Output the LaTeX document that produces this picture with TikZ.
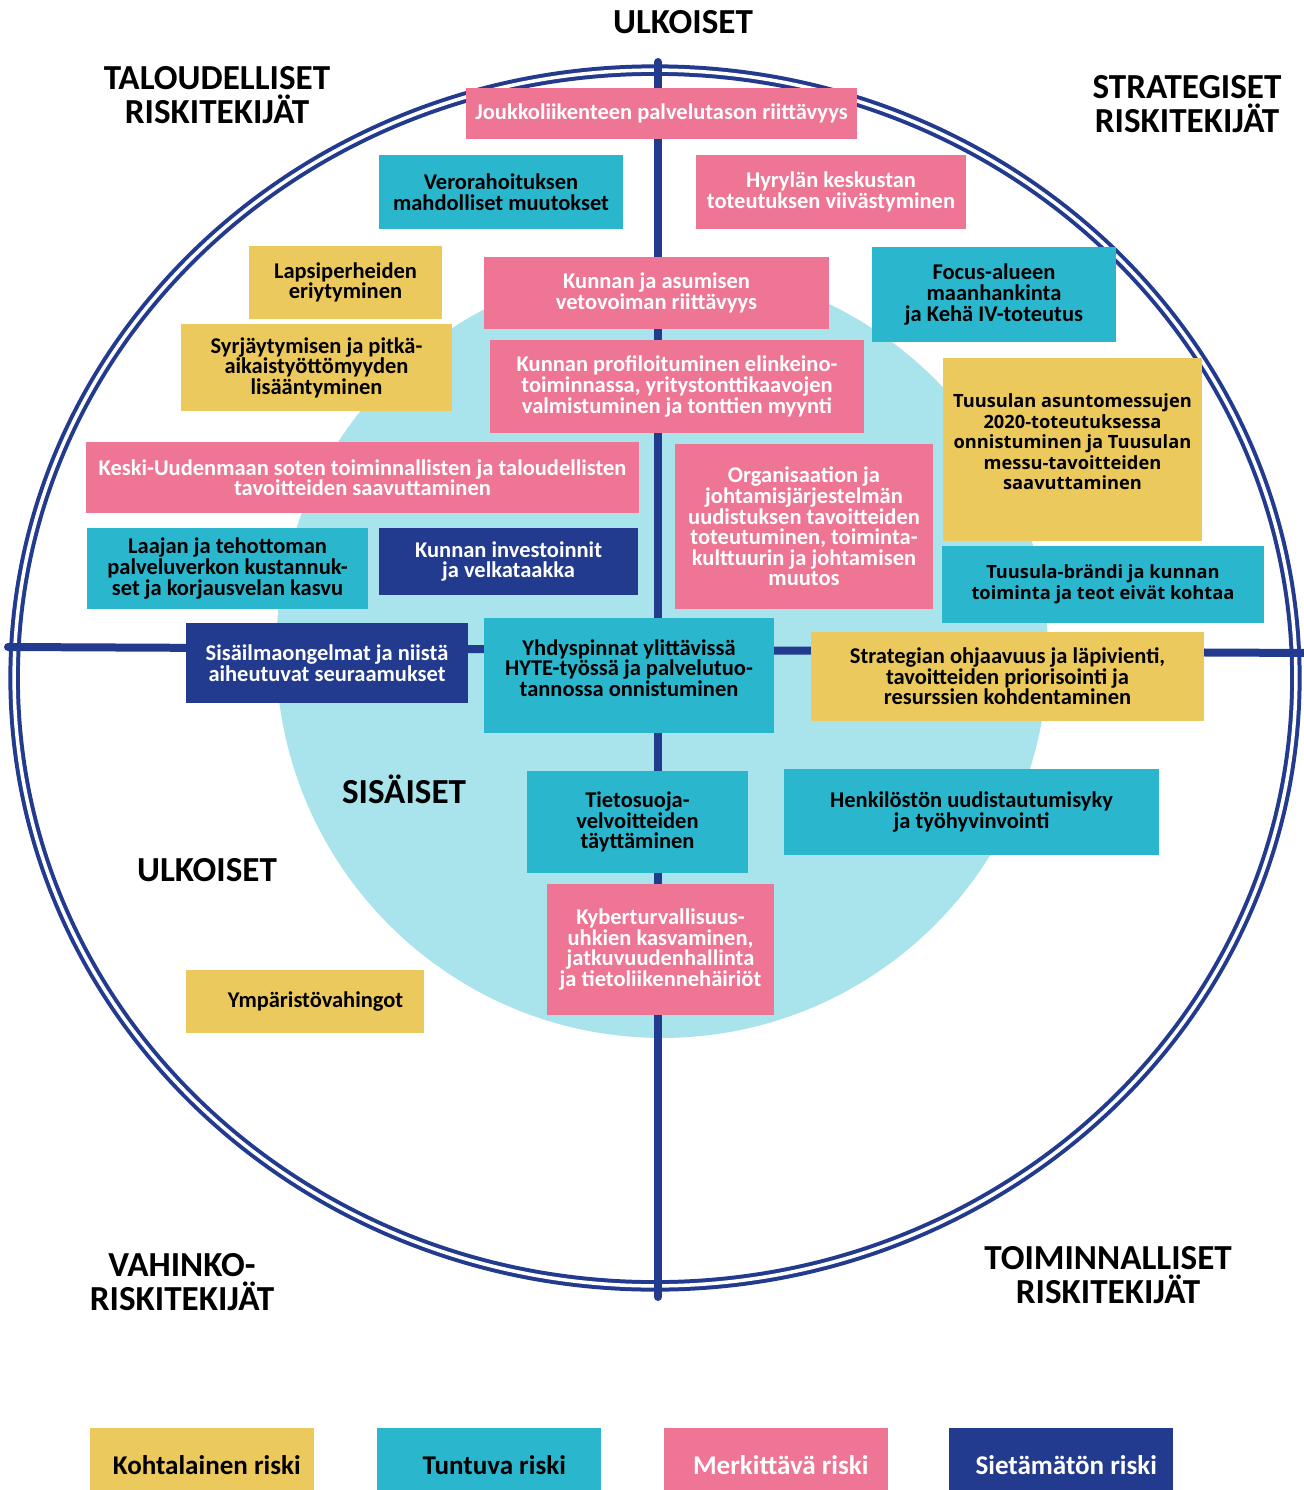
\documentclass[tikz,border=0pt]{standalone}
\usepackage{fontspec}
\setmainfont{Carlito}
\newfontfamily\opensans{Open Sans}
\usepackage{xcolor}
\usepackage{tikz}

\definecolor{riskyel}{HTML}{ECC95C}
\definecolor{riskteal}{HTML}{2AB7CE}
\definecolor{riskpink}{HTML}{EE7594}
\definecolor{risknavy}{HTML}{233B8E}
\definecolor{innerblue}{HTML}{A9E3EB}

\begin{document}
\begin{tikzpicture}[x=0.02cm, y=-0.02cm,
    riskbox/.style={rectangle, inner sep=0pt, align=center,
        font=\bfseries\fontsize{12.8}{11.7}\selectfont},
    sz/.style 2 args={minimum width=#1*0.02cm, minimum height=#2*0.02cm},
    yel/.style={riskbox, fill=riskyel, text=black},
    tea/.style={riskbox, fill=riskteal, text=black},
    pnk/.style={riskbox, fill=riskpink, text=white},
    nav/.style={riskbox, fill=risknavy, text=white},
    widefont/.style={font=\opensans\bfseries\fontsize{10.4}{11.7}\selectfont},
    quad/.style={align=center, font=\bfseries\fontsize{20}{19.4}\selectfont},
    legtxt/.style={font=\bfseries\fontsize{15.4}{16}\selectfont},
    crossline/.style={risknavy, line width=0.16cm, line cap=round}]
\useasboundingbox (0,0) rectangle (1303,1490);
\fill[white] (0,0) rectangle (1303,1490);

% Inner circle
\fill[innerblue] (662,652) circle [radius=7.72cm];

% Outer ring
\draw[risknavy, line width=0.08cm, double=white, double distance=0.07cm]
    (655,678) ellipse [x radius=12.82cm, y radius=12.16cm];

% Cross
\coordinate (ntop) at (658,62);
\coordinate (nbot) at (658,1297);
\coordinate (west) at (8,647);
\coordinate (east) at (1315,653);
\draw[crossline] (ntop) -- (nbot);
\draw[crossline] (west) -- (east);

% Quadrant titles
\node[quad] (ulkTop) at (683,22) {ULKOISET};
\node[quad] (talous) at (217,95) {TALOUDELLISET\\RISKITEKIJÄT};
\node[quad] (strat) at (1187,104) {STRATEGISET\\RISKITEKIJÄT};
\node[quad] (sisa) at (404,789) {SISÄISET};
\node[quad] (ulkLow) at (207,870) {ULKOISET};
\node[quad] (vahinko) at (182,1282) {VAHINKO-\\RISKITEKIJÄT};
\node[quad] (toimin) at (1108,1275) {TOIMINNALLISET\\RISKITEKIJÄT};

% Risks, upper half
\node[pnk, sz={391}{51}] (jouk) at (661.5,113.5) {Joukkoliikenteen palvelutason riittävyys};
\node[tea, sz={244}{74}] (vero) at (501,192) {Verorahoituksen\\mahdolliset muutokset};
\node[pnk, sz={270}{74}] (hyry) at (831,192) {Hyrylän keskustan\\toteutuksen viivästyminen};
\node[yel, sz={193}{73}] (laps) at (345.5,282.5) {Lapsiperheiden\\eriytyminen};
\node[pnk, sz={345}{72}] (veto) at (656.5,293) {Kunnan ja asumisen\\vetovoiman riittävyys};
\node[tea, sz={244}{95}] (focus) at (994,294.5) {Focus-alueen\\maanhankinta\\ja Kehä IV-toteutus};
\node[yel, sz={271}{87}] (syrj) at (316.5,367.5) {Syrjäytymisen ja pitkä-\\aikaistyöttömyyden\\lisääntyminen};
\node[pnk, sz={374}{93}] (prof) at (677,386.5) {Kunnan profiloituminen elinkeino-\\toiminnassa, yritystonttikaavojen\\valmistuminen ja tonttien myynti};
\node[yel, widefont, sz={259}{183}] (messu) at (1072.5,449.5) {Tuusulan asuntomessujen\\2020-toteutuksessa\\onnistuminen ja Tuusulan\\messu-tavoitteiden\\saavuttaminen\\[-3pt]\mbox{}};
\node[pnk, sz={553}{71}] (sote) at (362.5,477.5) {Keski-Uudenmaan soten toiminnallisten ja taloudellisten\\tavoitteiden saavuttaminen};
\node[pnk, sz={258}{165}] (orga) at (804,526.5) {Organisaation ja\\johtamisjärjestelmän\\uudistuksen tavoitteiden\\toteutuminen, toiminta-\\kulttuurin ja johtamisen\\muutos};
\node[tea, widefont, sz={322}{77}] (brandi) at (1103,584.5) {Tuusula-brändi ja kunnan\\toiminta ja teot eivät kohtaa};
\node[tea, sz={281}{81}] (verkko) at (227.5,568.5) {Laajan ja tehottoman\\palveluverkon kustannuk-\\set ja korjausvelan kasvu};
\node[nav, sz={259}{67}] (inves) at (508.5,561.5) {Kunnan investoinnit\\ja velkataakka};

% Risks, lower half
\node[nav, sz={282}{80}] (sisail) at (327,663) {Sisäilmaongelmat ja niistä\\aiheutuvat seuraamukset};
\node[tea, sz={290}{115}] (hyte) at (629,675.5) {Yhdyspinnat ylittävissä\\HYTE-työssä ja palvelutuo-\\tannossa onnistuminen\\[-3pt]\mbox{}};
\node[yel, sz={393}{89}] (strateg) at (1007.5,676.5) {Strategian ohjaavuus ja läpivienti,\\tavoitteiden priorisointi ja\\resurssien kohdentaminen};
\node[tea, sz={221}{102}] (tieto) at (637.5,822) {Tietosuoja-\\velvoitteiden\\täyttäminen};
\node[tea, sz={375}{86}] (henk) at (971.5,812) {Henkilöstön uudistautumisyky\\ja työhyvinvointi};
\node[pnk, sz={227}{131}] (kyber) at (660.5,949.5) {Kyberturvallisuus-\\uhkien kasvaminen,\\jatkuvuudenhallinta\\ja tietoliikennehäiriöt};
\node[yel, sz={238}{63}] (ymp) at (305,1001.5) {\hspace{12pt}Ympäristövahingot};

% Legend
\foreach \x/\sty/\lab [count=\i] in {201.5/yel/Kohtalainen riski, 489/tea/Tuntuva riski, 775.5/pnk/Merkittävä riski, 1061/nav/Sietämätön riski}
    \node[\sty, legtxt, sz={224}{74}] (leg\i) at (\x,1465) {\hspace{6pt}\lab};
\end{tikzpicture}
\end{document}
